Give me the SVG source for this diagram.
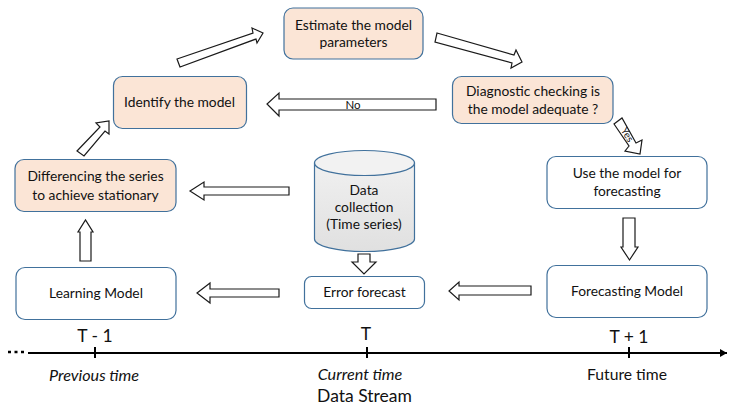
<svg xmlns="http://www.w3.org/2000/svg" width="734" height="406" viewBox="0 0 734 406">
<defs>
<linearGradient id="cyl" x1="0" y1="0" x2="0" y2="1"><stop offset="0" stop-color="#f0f0f0"/><stop offset="1" stop-color="#e0e0e0"/></linearGradient>
<marker id="tl" markerUnits="userSpaceOnUse" markerWidth="8" markerHeight="8" refX="7" refY="4" orient="auto"><path d="M0 0L7 4L0 8z" fill="#000"/></marker>
</defs>
<style>
text{font-family:Lato,"Liberation Sans",sans-serif;fill:#111;text-anchor:middle}
.n{font-size:13.800px}
.o{fill:#fbe5d6;stroke:#41719c;stroke-width:1.200}
.w{fill:#fff;stroke:#41719c;stroke-width:1.200}
.a{fill:#fff;stroke:#1a1a1a;stroke-width:1.200}
.t{font-size:17.500px}
.s{font-size:15.700px}
.i{font-size:16.200px;font-style:italic}
</style>
<rect width="734" height="406" fill="#fff"/>
<g id="connectors">
<polygon class="a" points="77,151 100,127 96,123 109,121 109,134 105,131 84,156"/>
<polygon class="a" points="177,59 253,33 252,28 263,33 257,43 256,39 180,67"/>
<polygon class="a" points="437,33 514,55 516,50 522,62 511,68 512,63 435,42"/>
<polygon class="a" points="614,124 622,118 636,143 642,140 640,154 625,151 629,146"/>
<polygon class="a" points="436,99 279,99 279,93 267,104 279,116 279,110 436,110"/>
<polygon class="a" points="289,187 204,187 204,182 190,191 204,200 204,195 289,195"/>
<polygon class="a" points="279,289 210,289 210,283 197,293 210,303 210,297 279,297"/>
<polygon class="a" points="531,286 459,286 459,282 449,291 459,300 459,295 531,295"/>
<polygon class="a" points="358,254 370,254 370,262 376,262 364,274 352,262 358,262"/>
<polygon class="a" points="623,218 635,218 635,247 638,247 629.500,260 621,247 623,247"/>
<polygon class="a" points="80,261 91,261 91,232 93,232 85.500,220 78,232 80,232"/>
<text x="353" y="109" font-size="11.500">No</text>
<text x="0" y="0" font-size="10" transform="translate(627 135) rotate(58) translate(0 3)">Yes</text>
</g>
<g id="estimate"><rect class="o" x="284" y="8" width="139" height="51" rx="9"/><text class="n" x="353.500" y="30">Estimate the model</text><text class="n" x="353.500" y="47">parameters</text></g>
<g id="diagnostic"><rect class="o" x="452.500" y="76.500" width="160.500" height="47" rx="9"/><text class="n" x="533" y="96">Diagnostic checking is</text><text class="n" x="533" y="114">the model adequate ?</text></g>
<g id="identify"><rect class="o" x="113.500" y="76.500" width="133" height="52" rx="9"/><text class="n" x="179.500" y="107">Identify the model</text></g>
<g id="differencing"><rect class="o" x="15" y="159.500" width="161" height="52" rx="9"/><text class="n" x="95.500" y="181">Differencing the series</text><text class="n" x="95.500" y="200">to achieve stationary</text></g>
<g id="learning"><rect class="w" x="16" y="267.500" width="160" height="52" rx="9"/><text class="n" x="96" y="298">Learning Model</text></g>
<g id="use"><rect class="w" x="547" y="156.500" width="160" height="52" rx="9"/><text class="n" x="627" y="178">Use the model for</text><text class="n" x="627" y="196">forecasting</text></g>
<g id="forecasting"><rect class="w" x="547" y="265.500" width="160" height="52" rx="9"/><text class="n" x="627" y="296">Forecasting Model</text></g>
<g id="error"><rect class="w" x="304.500" y="276.500" width="120" height="32" rx="7"/><text class="n" x="364.500" y="297">Error forecast</text></g>
<g id="data">
<path d="M314.500 163V239C314.500 246 337 251.500 364.500 251.500S414.500 246 414.500 239V163z" fill="url(#cyl)" stroke="#41719c" stroke-width="1.200"/>
<ellipse cx="364.500" cy="163" rx="50" ry="12.500" fill="#f2f2f2" stroke="#41719c" stroke-width="1.200"/>
<text class="n" x="364" y="195">Data</text><text class="n" x="364" y="212">collection</text><text class="n" x="364" y="229">(Time series)</text>
</g>
<g id="timeline">
<path d="M28 353H727" stroke="#000" stroke-width="2" fill="none" marker-end="url(#tl)"/>
<path d="M95 347V358M367 347V358M629 347V358" stroke="#000" stroke-width="2" fill="none"/>
<path d="M8 352H24" stroke="#000" stroke-width="2.500" stroke-dasharray="3 3.500" fill="none"/>
<text class="t" x="95" y="342">T - 1</text><text class="t" x="366" y="340">T</text><text class="t" x="629" y="343">T + 1</text>
<text class="i" x="94" y="381">Previous time</text><text class="i" x="360" y="380">Current time</text><text class="s" x="627" y="380">Future time</text>
<text class="t" x="364.500" y="402">Data Stream</text>
</g>
</svg>
